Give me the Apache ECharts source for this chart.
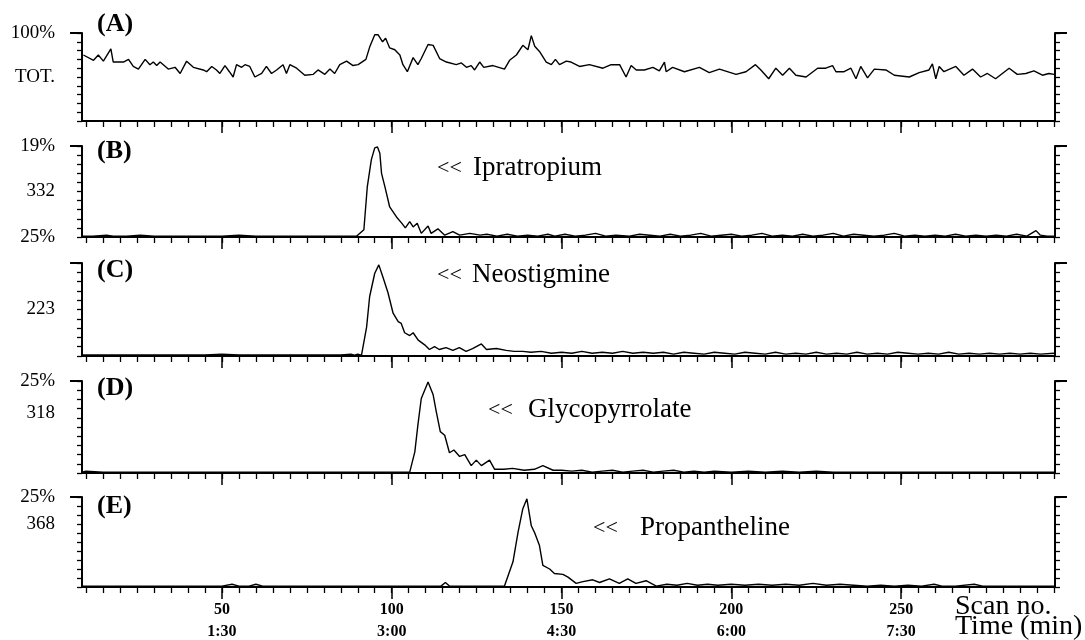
<!DOCTYPE html>
<html><head><meta charset="utf-8">
<script src="https://cdn.jsdelivr.net/npm/echarts@6/dist/echarts.min.js"></script>
<style>html,body{margin:0;padding:0;background:#fff}#c{width:1085px;height:640px}</style>
</head><body><div id="c"></div>
<script>
// ---- data (scan number, relative intensity %) ----
const scansA = [9.2,12.2,13.6,15.1,17.3,18,21,22.5,23.9,25.4,27.4,28.8,29.8,30.8,31.8,34.2,36.2,37.7,39.6,41.6,44.5,45.5,47,48.4,49.4,50.9,52.2,53.3,54.3,55.8,56.8,58.2,59.7,61.7,63.1,64.6,66.1,68,69,70,72,74.4,76.9,78.3,80.3,81.8,83.2,84.7,86.7,88.6,90.1,92.4,93.5,95,96,97.3,98.2,99.4,100.9,102.4,103.3,104.6,106.3,107.7,108.7,110.7,112.2,114.1,116.1,119,120.5,122,123.4,124.4,125.9,127.1,129.8,133.2,134.7,136.7,138.6,140.1,141.1,142.1,143.5,145.5,147,148.2,149.4,151.4,152.8,155.3,158.2,162.2,164.6,167.1,169,170.5,172,174.4,176.9,178.8,180.3,180.8,182.7,186.2,190.6,193.5,196.5,201.4,204.3,207.1,208.7,211,213.1,215.1,217.1,219,222,225.4,227.8,229.8,230.8,233.2,235.2,236.7,238.1,240.1,242.1,245.5,248,252.4,255.3,258.2,259.2,260.2,261.2,262.6,266.1,268.5,271,273.4,275.4,277.8,279.8,281.8,284.2,286.7,289.1,291.6,293.5,295];
const valuesA = [75,69,75,68,82,67,67,70,62,59,70,64,67,63,67,59,61,54,68,61,58,56,62,58,54,63,56,50,64,61,64,62,50,54,62,54,58,64,54,64,60,52,53,58,53,59,54,64,68,63,64,70,84,98,98,90,94,83,81,75,64,56,72,64,71,87,86,71,67,64,66,61,63,58,67,61,63,59,69,75,86,81,97,85,79,67,64,70,64,68,67,62,64,60,64,64,50,63,58,58,61,57,67,56,61,56,61,55,59,53,56,64,58,48,60,52,60,52,50,60,60,63,56,56,60,48,62,49,59,58,52,50,55,58,65,48,62,56,62,52,59,50,54,48,54,60,53,54,57,52,54,53];

const scansB = [8.8,12,16,18,22,26,30,35,40,45,50,55,60,65,70,75,80,85,89.7,91.8,92.8,94,95,95.8,96.5,97,98,99.4,101.4,103,104,105.3,106.3,107.5,108.7,110.7,111.6,113.6,115.6,118,120,123,126,128,131,134,137,140,143,146,148,151,154,157,160,163,166,170,173,176,179,182,185,188,191,194,197,200,203,206,209,212,215,218,221,224,227,230,233,236,239,242,245,248,251,254,257,260,263,266,269,272,275,278,281,284,287,289.7,291,293,295];
const valuesB = [1,1,2,1,1,2,1,1,1,1,1,2,1,1,1,1,1,1,1,8,55,85,98,99,92,70,55,33,22,15,10,17,11,15,4,12,4,9,2,6,2,4,2,3,1,3,1,2,1,3,1,3,1,2,4,1,2,1,3,2,1,3,1,2,4,1,2,3,1,2,4,1,2,1,3,1,2,4,1,3,2,1,2,4,1,2,1,2,1,3,1,2,1,2,1,3,1,7,2,1,1];

const scansC = [8.8,15,20,25,30,35,40,45,50,55,60,65,70,75,80,85,88,89,90,91.1,92.6,93.5,95,96.2,97.4,98.9,100.4,101.9,102.8,103.8,105.3,106.3,107.8,109.7,111.1,112.6,114,116,118,119.9,121.9,123.8,126.4,127.9,130.8,133.7,136,138.6,141,144,147,150,153,156,159,162,165,168,171,174,177,180,183,186,189,192,195,198,201,204,207,210,213,216,219,222,225,228,231,234,237,240,243,246,249,252,255,258,261,264,267,270,273,276,279,282,285,288,291,295];
const valuesC = [1,1,1,1,1,1,1,1,2,1,1,1,1,1,1,1,2,1,2,1,31,64,89,98,85,68,46,37,35,25,22,25,17,12,7,10,7,9,6,9,5,8,13,7,8,6,5,5,4,5,3,4,3,5,3,4,3,5,3,4,3,4,2,4,3,2,4,3,2,4,3,2,4,2,3,2,4,2,3,2,4,2,3,2,4,3,2,3,2,4,2,3,2,3,2,3,2,3,2,3];

const scansD = [8.8,10,15,20,30,40,50,60,70,80,90,100,105.3,106.8,107.7,108.7,110.7,112.2,113.1,114.3,115.6,117,118.3,120,121.5,123.4,124.9,126.4,128.8,130.3,133,135.6,139,142,144.5,147.5,150,153,156,159,162,165,168,171,174,177,180,183,186,189,192,195,200,205,210,215,220,225,230,240,250,260,270,280,290,295];
const valuesD = [1,2,1,1,1,1,1,1,1,1,1,1,1,23,52,81,99,85,67,45,41,22,25,18,20,8,14,8,14,4,4,5,3,4,8,3,3,2,3,1,2,3,1,2,3,1,2,3,1,2,1,2,1,2,1,2,1,2,1,1,1,1,1,1,1,1];

const scansE = [8.8,20,30,40,50,53,55,58,60,62,70,80,90,100,110,114.5,115.8,117,125,133.2,135.7,137.2,138.6,139.8,141.1,142,143.5,144.5,146.5,147.9,150.4,151.9,154.3,156.3,159.2,161.2,164.1,167,169.5,171.9,174.9,177.9,181,184,187,190,193,196,200,204,208,212,216,220,224,228,232,236,240,244,248,252,256,259.7,262,266,271.5,274,280,285,290,295];
const valuesE = [1,1,1,1,1,3,1,1,3,1,1,1,1,1,1,1,5,1,1,1,28,61,87,98,68,61,46,24,20,15,14,11,4,6,8,5,9,4,9,4,7,1,3,2,4,2,3,2,3,2,3,2,3,2,4,2,3,2,1,2,1,2,1,3,1,1,3,1,1,1,1,1];

const panelLetters = ['(A)','(B)','(C)','(D)','(E)'];
const compounds = ['Ipratropium','Neostigmine','Glycopyrrolate','Propantheline'];
const yLabelValues = [[100,50],[100,50,0],[50],[100,65],[100,70]];
const yLabelTexts = [['100%','TOT.'],['19%','332','25%'],['223'],['25%','318'],['25%','368']];
const scanTicks = [50,100,150,200,250];
const timeLabels = ['1:30','3:00','4:30','6:00','7:30'];
const xTitle1 = 'Scan no.';
const xTitle2 = 'Time (min)';

// ---- layout ----
const FONT = "'Liberation Serif','Times New Roman',serif";
const X_MIN = 8.8, X_MAX = 295.3;
const gridBoxes = [[33,88],[146,91],[263,93],[381,92],[497,90]];
const minorTicks = []; for (let v = 10; v <= 295; v += 5) minorTicks.push(v);
const yTicks = [0,10,20,30,40,50,60,70,80,90,100];
const allScans = [scansA,scansB,scansC,scansD,scansE];
const allValues = [valuesA,valuesB,valuesC,valuesD,valuesE];

const grid = [], xAxis = [], yAxis = [], series = [];
gridBoxes.forEach((g, i) => {
  grid.push({left: 82, right: 30, top: g[0], height: g[1], containLabel: false, outerBoundsMode: 'none'});
  xAxis.push({gridIndex: i, type: 'value', position: 'bottom', min: X_MIN, max: X_MAX,
    axisLine: {show: true, onZero: false, lineStyle: {color: '#000', width: 2}},
    axisTick: {show: true, customValues: minorTicks, length: 6, lineStyle: {color: '#000', width: 1.3}},
    axisLabel: {show: false}, splitLine: {show: false}});
  xAxis.push({gridIndex: i, type: 'value', position: 'bottom', min: X_MIN, max: X_MAX,
    axisLine: {show: false, onZero: false},
    axisTick: {show: true, customValues: scanTicks, length: 12, lineStyle: {color: '#000', width: 1.5}},
    axisLabel: i === 4 ? {show: true, customValues: scanTicks, margin: 12, lineHeight: 22,
      fontFamily: FONT, fontSize: 16, fontWeight: 'bold', color: '#000',
      formatter: v => v + '\n' + timeLabels[scanTicks.indexOf(v)]} : {show: false},
    splitLine: {show: false}});
  const lv = yLabelValues[i], lt = yLabelTexts[i];
  yAxis.push({gridIndex: i, type: 'value', position: 'left', min: 0, max: 100,
    axisLine: {show: true, onZero: false, lineStyle: {color: '#000', width: 2}},
    axisTick: {show: true, customValues: yTicks, length: 5, lineStyle: {color: '#000', width: 1.3}},
    axisLabel: {show: true, customValues: lv, margin: 27, fontFamily: FONT, fontSize: 19, color: '#000',
      formatter: v => lt[lv.indexOf(v)]},
    splitLine: {show: false}});
  yAxis.push({gridIndex: i, type: 'value', position: 'left', min: 0, max: 100,
    axisLine: {show: false, onZero: false},
    axisTick: {show: true, customValues: [100], length: 12, lineStyle: {color: '#000', width: 2}},
    axisLabel: {show: false}, splitLine: {show: false}});
  yAxis.push({gridIndex: i, type: 'value', position: 'right', min: 0, max: 100,
    axisLine: {show: true, onZero: false, lineStyle: {color: '#000', width: 2}},
    axisTick: {show: true, customValues: yTicks, length: 5, lineStyle: {color: '#000', width: 1.3}},
    axisLabel: {show: false}, splitLine: {show: false}});
  yAxis.push({gridIndex: i, type: 'value', position: 'right', min: 0, max: 100,
    axisLine: {show: false, onZero: false},
    axisTick: {show: true, customValues: [100], length: 12, lineStyle: {color: '#000', width: 2}},
    axisLabel: {show: false}, splitLine: {show: false}});
  series.push({type: 'line', xAxisIndex: 2 * i, yAxisIndex: 4 * i, showSymbol: false, silent: true,
    data: allScans[i].map((s, k) => [s, allValues[i][k]]),
    lineStyle: {color: '#000', width: 1.4}});
});

const letterY = [25, 152, 271, 389, 507];
const nameY = [170, 277, 412, 530];
const arrowX = [437, 437, 488, 593];
const nameX = [473, 472, 528, 640];
const graphic = [];
panelLetters.forEach((t, i) => graphic.push({type: 'text', left: 97, top: letterY[i] - 14,
  style: {text: t, font: 'bold 26px ' + FONT, fill: '#000'}}));
compounds.forEach((t, i) => {
  graphic.push({type: 'text', left: arrowX[i], top: nameY[i] - 13,
    style: {text: '<<', font: '22px ' + FONT, fill: '#000'}});
  graphic.push({type: 'text', left: nameX[i], top: nameY[i] - 16,
    style: {text: t, font: '27px ' + FONT, fill: '#000'}});
});
graphic.push({type: 'text', left: 955, top: 593, style: {text: xTitle1, font: '28px ' + FONT, fill: '#000'}});
graphic.push({type: 'text', left: 955, top: 613, style: {text: xTitle2, font: '28px ' + FONT, fill: '#000'}});

const chart = echarts.init(document.getElementById('c'), null, {renderer: 'canvas'});
chart.setOption({backgroundColor: '#fff', animation: false, grid, xAxis, yAxis, series, graphic});
</script></body></html>
